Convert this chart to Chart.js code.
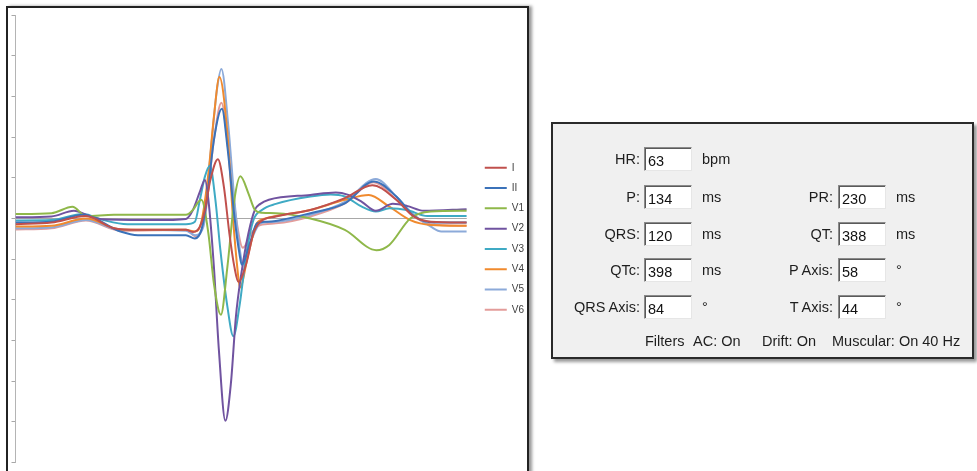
<!DOCTYPE html>
<html>
<head>
<meta charset="utf-8">
<script src="https://cdn.jsdelivr.net/npm/chart.js"></script>
<style>
  body { margin: 0; background: #fff; width: 977px; height: 471px; overflow: hidden; position: relative;
         font-family: "Liberation Sans", Arial, sans-serif; }
  .frame { position: absolute; left: 6px; top: 6px; width: 519px; height: 480px;
           border: 2px solid #222; box-shadow: 3px 0 3px #999; background: #fff; }
  #ecg { position: absolute; left: 0; top: 0; }
  .panel { position: absolute; left: 551px; top: 122px; width: 419px; height: 233px;
           background: #f0f0f0; border: 2px solid #2a2a2a; box-shadow: 3px 3px 3px rgba(0,0,0,0.4); }
  .lbl, .unit, .flt { position: absolute; height: 24px; line-height: 24px; font-size: 14.5px; color: #1e1e1e; white-space: nowrap; }
  .lbl { text-align: right; width: 120px; }
  .box { position: absolute; width: 48px; height: 24px; box-sizing: border-box; background: #fff;
         border-top: 1px solid #8a8a8a; border-left: 1px solid #8a8a8a;
         border-bottom: 1px solid #e6e6e6; border-right: 1px solid #e6e6e6;
         box-shadow: inset 1px 1px 0 #5a5a5a; font-size: 14.5px; line-height: 26px; padding-left: 3px; color: #111; }
</style>
</head>
<body>
<div class="frame"></div>
<canvas id="ecg" width="540" height="471"></canvas>
<div class="panel"></div>
<div id="fields"></div>
<script>
// time in ms from start of the averaged beat, amplitude in grid units
const leadI_t = [0, 72, 141, 197, 245, 341, 355, 369, 379, 390, 405, 417, 428, 438, 446, 462, 476, 490, 521, 590, 659, 714, 762, 797, 831, 903];
const leadI_v = [-0.14, -0.1, 0.06, -0.24, -0.28, -0.28, -0.33, -0.2, 0.21, 0.95, 1.46, 0.78, -0.37, -1.19, -1.56, -1.1, -0.37, -0.08, 0.05, 0.21, 0.5, 0.82, 0.46, 0.05, -0.08, -0.1];

const leadII_t = [0, 72, 135, 210, 245, 341, 359, 372, 383, 397, 413, 424, 438, 448, 453, 469, 483, 500, 521, 590, 659, 717, 762, 797, 838, 903];
const leadII_v = [-0.1, -0.08, 0.09, -0.32, -0.41, -0.41, -0.49, -0.28, 0.46, 1.93, 2.7, 1.77, 0.05, -0.86, -1.14, -0.61, -0.12, -0.08, -0.06, 0.13, 0.37, 0.91, 0.54, 0.06, -0.1, -0.1];

const leadV1_t = [0, 72, 114, 141, 197, 341, 355, 366, 372, 386, 397, 411, 424, 438, 450, 466, 479, 493, 521, 590, 659, 722, 748, 790, 831, 903];
const leadV1_v = [0.11, 0.13, 0.29, 0.06, 0.09, 0.09, 0.21, 0.41, 0.46, -0.37, -1.6, -2.37, -1.19, 0.46, 1.04, 0.62, 0.21, 0.14, 0.13, 0, -0.28, -0.78, -0.65, 0, 0.17, 0.19];

const leadV2_t = [0, 72, 117, 148, 176, 279, 341, 355, 369, 379, 386, 397, 407, 420, 431, 441, 452, 466, 479, 490, 507, 590, 641, 666, 693, 721, 755, 783, 817, 903];
const leadV2_v = [0.03, 0.05, 0.19, 0.06, -0.02, -0.04, -0.01, 0.21, 0.66, 0.95, 0.46, -1.19, -3.24, -4.98, -4.06, -2.42, -1.35, -0.37, 0.21, 0.36, 0.46, 0.58, 0.64, 0.58, 0.41, 0.19, 0.36, 0.31, 0.19, 0.23];

const leadV3_t = [0, 72, 135, 176, 224, 341, 359, 369, 379, 389, 400, 410, 424, 436, 448, 462, 476, 493, 521, 590, 631, 659, 693, 721, 748, 783, 824, 903];
const leadV3_v = [-0.05, -0.04, 0.11, -0.04, -0.14, -0.14, -0.08, 0.46, 1.03, 1.3, 0.46, -0.78, -2.17, -2.9, -2.17, -0.86, -0.04, 0.21, 0.36, 0.54, 0.59, 0.54, 0.29, 0.17, 0.25, 0.21, 0.06, 0.06];

const leadV4_t = [0, 72, 141, 210, 341, 359, 372, 386, 397, 408, 424, 435, 445, 449, 466, 483, 500, 521, 590, 659, 707, 748, 790, 831, 903];
const leadV4_v = [-0.2, -0.18, 0, -0.27, -0.28, -0.32, -0.08, 1.11, 2.5, 3.48, 2.1, 0.05, -1.35, -1.7, -0.86, -0.12, 0, 0.06, 0.21, 0.46, 0.58, 0.29, -0.04, -0.16, -0.18];

const leadV5_t = [0, 72, 141, 210, 341, 359, 376, 391, 403, 412, 426, 438, 448, 455, 472, 490, 521, 590, 659, 721, 762, 797, 831, 852, 903];
const leadV5_v = [-0.24, -0.22, -0.04, -0.28, -0.3, -0.41, -0.2, 1.69, 3.16, 3.68, 2.26, 0.46, -0.69, -1.1, -0.53, -0.12, -0.08, 0.09, 0.41, 0.97, 0.54, 0.09, -0.2, -0.32, -0.32];

const leadV6_t = [0, 72, 141, 210, 341, 362, 379, 397, 412, 428, 441, 455, 472, 490, 521, 590, 659, 717, 762, 797, 831, 903];
const leadV6_v = [-0.27, -0.24, -0.05, -0.3, -0.28, -0.45, 0.05, 1.93, 2.85, 1.44, 0.05, -0.72, -0.36, -0.16, -0.12, 0.05, 0.37, 0.89, 0.46, 0.05, -0.14, -0.18];

const leadNames = ["I", "II", "V1", "V2", "V3", "V4", "V5", "V6"];
const leadColors = ["#c0504d", "#3b72b9", "#8fb84a", "#7053a0", "#3faac4", "#f08a2e", "#8caad9", "#e39c9a"];
const leadTimes = [leadI_t, leadII_t, leadV1_t, leadV2_t, leadV3_t, leadV4_t, leadV5_t, leadV6_t];
const leadValues = [leadI_v, leadII_v, leadV1_v, leadV2_v, leadV3_v, leadV4_v, leadV5_v, leadV6_v];

const yMin = -6, yMax = 5;

const datasets = leadNames.map((name, i) => ({
    label: name,
    data: leadTimes[i].map((t, k) => ({ x: t, y: leadValues[i][k] })),
    borderColor: leadColors[i],
    backgroundColor: leadColors[i],
    borderWidth: 2,
    pointRadius: 0,
    cubicInterpolationMode: "monotone"
}));

new Chart(document.getElementById("ecg"), {
    type: "line",
    data: { datasets: datasets },
    options: {
        responsive: false,
        animation: false,
        devicePixelRatio: 1,
        layout: { padding: { left: 11.5, top: 15.3, bottom: 8.7, right: 6 } },
        scales: {
            x: { type: "linear", min: 0, max: 903, display: false },
            y: {
                min: yMin, max: yMax,
                ticks: { stepSize: 1, display: false },
                grid: {
                    color: (c) => c.tick && c.tick.value === 0 ? "#a8a8a8" : "rgba(0,0,0,0)",
                    tickColor: "#a8a8a8",
                    tickLength: 4
                },
                border: { color: "#b4b4b4" }
            },
            // empty spacer between plot and legend
            gap: {
                position: "right", display: true,
                grid: { display: false }, ticks: { display: false }, border: { display: false },
                afterFit: (s) => { s.width = 7.7; }
            }
        },
        plugins: {
            tooltip: { enabled: false },
            legend: {
                position: "right",
                labels: {
                    usePointStyle: true,
                    pointStyle: "line",
                    pointStyleWidth: 22,
                    padding: 10.3,
                    color: "#404040",
                    font: { family: "Liberation Sans", size: 10 }
                }
            }
        }
    }
});

// measurement panel
const rowY = [158.5, 197, 233.5, 269.5, 306.5];
const col1Labels = ["HR:", "P:", "QRS:", "QTc:", "QRS Axis:"];
const col1Values = ["63", "134", "120", "398", "84"];
const col1Units = ["bpm", "ms", "ms", "ms", "°"];
const col2Labels = [null, "PR:", "QT:", "P Axis:", "T Axis:"];
const col2Values = [null, "230", "388", "58", "44"];
const col2Units = [null, "ms", "ms", "°", "°"];
const filterTexts = ["Filters", "AC: On", "Drift: On", "Muscular: On 40 Hz"];
const filterX = [645, 693, 762, 832];

const fields = document.getElementById("fields");
function addEl(cls, text, left, top) {
    const d = document.createElement("div");
    d.className = cls;
    d.textContent = text;
    d.style.left = left + "px";
    d.style.top = top + "px";
    fields.appendChild(d);
}
rowY.forEach((y, i) => {
    const top = y - 12;
    addEl("lbl", col1Labels[i], 640 - 120, top);
    addEl("box", col1Values[i], 644, top);
    addEl("unit", col1Units[i], 702, top);
    if (col2Labels[i]) {
        addEl("lbl", col2Labels[i], 833 - 120, top);
        addEl("box", col2Values[i], 838, top);
        addEl("unit", col2Units[i], 896, top);
    }
});
filterTexts.forEach((t, i) => addEl("flt", t, filterX[i], 341 - 12));
</script>
</body>
</html>
